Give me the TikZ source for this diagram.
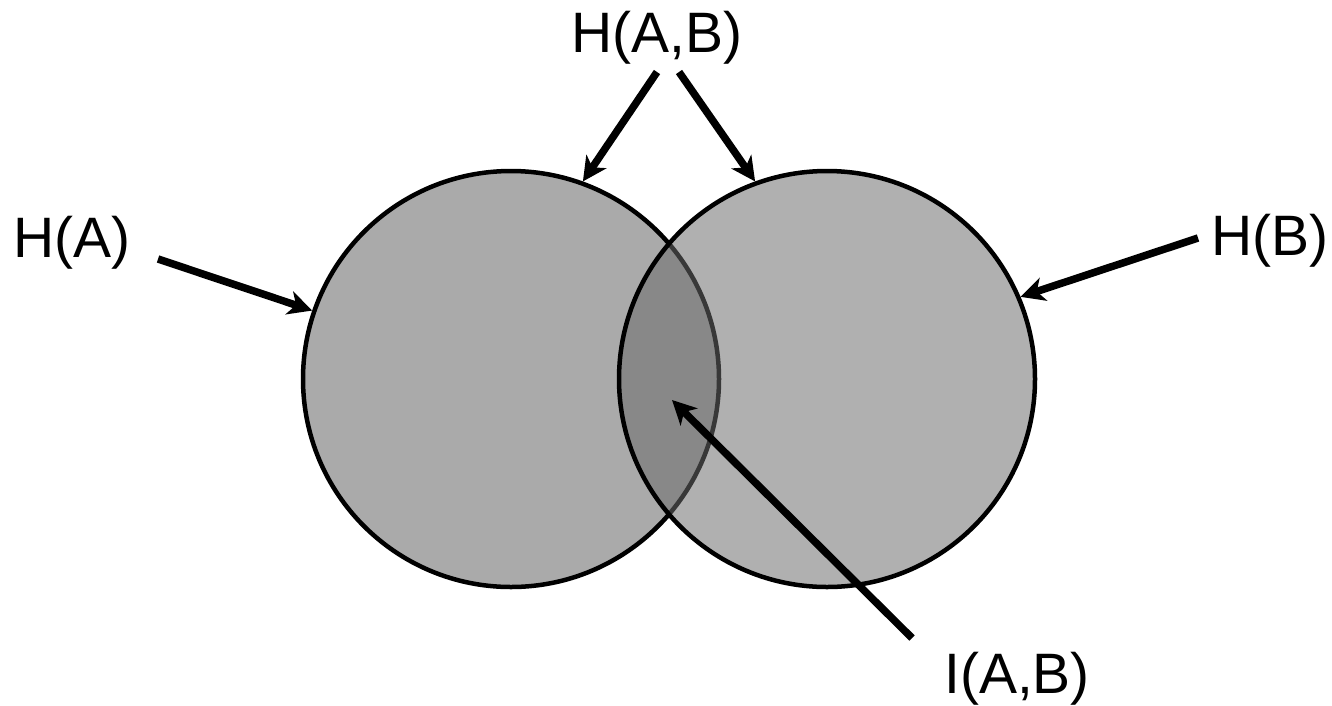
\documentclass[tikz,border=0pt]{standalone}
\usepackage{fontspec}
\setmainfont{Liberation Sans}
\usetikzlibrary{arrows.meta}
\definecolor{fillA}{RGB}{170,170,170}
\definecolor{fillB}{RGB}{106,106,106}
\begin{document}
\begin{tikzpicture}[x=1pt,y=-1pt,
  lbl/.style={font=\fontsize{57}{60}\selectfont, inner sep=0pt, anchor=base},
  venn/.style={circle, draw=black, line width=4.5pt, minimum size=416pt, inner sep=0pt},
  arr/.style={line width=7.5pt, -{Stealth[length=24pt,width=24pt,inset=7pt]}}]
\useasboundingbox (0,0) rectangle (1332,705);
\node[venn, fill=fillA] (A) at (511,379) {};
\node[venn, fill=fillB, fill opacity=0.53] (B) at (827,379) {};
\node[lbl] (hab) at (657,52) {H(A,B)};
\node[lbl] (ha) at (72,257) {H(A)};
\node[lbl] (hb) at (1270,255) {H(B)};
\node[lbl] (iab) at (1017,693) {I(A,B)};
\coordinate (s1) at (657,72);
\coordinate (s2) at (679,72);
\coordinate (s3) at (158,259);
\coordinate (s4) at (1198,238);
\coordinate (s5) at (912,638);
\coordinate (t5) at (672,400);
\draw[arr] (s1) -- (A.70);
\draw[arr] (s2) -- (B.110);
\draw[arr] (s3) -- (A.161);
\draw[arr] (s4) -- (B.23);
\draw[arr] (s5) -- (t5);
\end{tikzpicture}
\end{document}
